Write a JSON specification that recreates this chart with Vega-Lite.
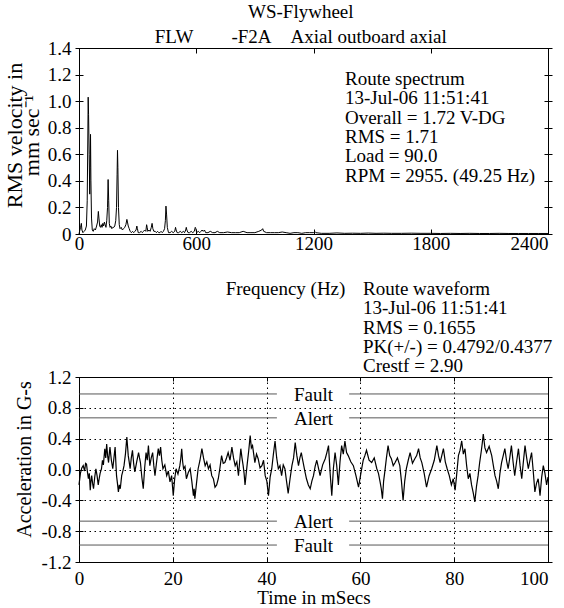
{
  "$schema": "https://vega.github.io/schema/vega-lite/v6.json",
  "padding": {"left": 2, "top": 3, "right": 0, "bottom": 0},
  "bounds": "flush",
  "spacing": 143,
  "title": {
    "text": "WS-Flywheel",
    "subtitle": "FLW\u00a0\u00a0\u00a0\u00a0\u00a0\u00a0\u00a0\u00a0-F2A\u00a0\u00a0\u00a0\u00a0Axial outboard axial",
    "anchor": "middle",
    "dx": 23,
    "offset": -8.5,
    "subtitlePadding": 6
  },
  "config": {
    "font": "Liberation Serif",
    "view": {"stroke": "black", "strokeWidth": 1},
    "axis": {
      "labelFont": "Liberation Serif", "titleFont": "Liberation Serif",
      "labelFontSize": 19, "titleFontSize": 19, "titleFontWeight": "normal",
      "labelColor": "black", "titleColor": "black", "tickColor": "black", "tickWidth": 1,
      "domain": false, "grid": false, "labelOverlap": false, "labelBound": false
    },
    "text": {"font": "Liberation Serif", "fontSize": 19, "color": "black"},
    "title": {
      "font": "Liberation Serif", "fontSize": 19, "fontWeight": "normal", "color": "black",
      "subtitleFont": "Liberation Serif", "subtitleFontSize": 19, "subtitleColor": "black"
    }
  },
  "vconcat": [
    {
      "width": 469,
      "height": 186,
      "layer": [
        {
          "data": {"values": [
            {"f":0,"v":0.0},{"f":3,"v":0.02},{"f":8,"v":0.05},{"f":12,"v":0.08},{"f":15,"v":0.03},{"f":20,"v":0.01},
            {"f":26,"v":0.02},{"f":32,"v":0.03},{"f":38,"v":0.06},{"f":42,"v":0.25},{"f":45,"v":0.7},{"f":47,"v":1.03},
            {"f":49,"v":0.9},{"f":52,"v":0.6},{"f":55,"v":0.3},{"f":57,"v":0.5},{"f":59,"v":0.75},{"f":61,"v":0.4},
            {"f":64,"v":0.12},{"f":68,"v":0.03},{"f":73,"v":0.02},{"f":78,"v":0.04},{"f":84,"v":0.03},{"f":90,"v":0.06},
            {"f":95,"v":0.09},{"f":99,"v":0.17},{"f":102,"v":0.12},{"f":106,"v":0.06},{"f":110,"v":0.05},{"f":114,"v":0.07},
            {"f":118,"v":0.05},{"f":122,"v":0.08},{"f":126,"v":0.06},{"f":130,"v":0.09},{"f":134,"v":0.07},{"f":138,"v":0.05},
            {"f":142,"v":0.1},{"f":146,"v":0.2},{"f":149,"v":0.41},{"f":152,"v":0.25},{"f":155,"v":0.08},{"f":159,"v":0.05},
            {"f":163,"v":0.06},{"f":168,"v":0.04},{"f":173,"v":0.05},{"f":178,"v":0.05},{"f":183,"v":0.06},{"f":188,"v":0.1},
            {"f":192,"v":0.2},{"f":195,"v":0.45},{"f":197,"v":0.63},{"f":199,"v":0.5},{"f":202,"v":0.2},{"f":206,"v":0.07},
            {"f":210,"v":0.04},{"f":216,"v":0.05},{"f":222,"v":0.03},{"f":228,"v":0.04},{"f":234,"v":0.05},{"f":240,"v":0.07},
            {"f":245,"v":0.11},{"f":248,"v":0.09},{"f":252,"v":0.06},{"f":257,"v":0.04},{"f":262,"v":0.02},{"f":268,"v":0.01},
            {"f":274,"v":0.02},{"f":280,"v":0.01},{"f":286,"v":0.02},{"f":292,"v":0.03},{"f":296,"v":0.06},{"f":299,"v":0.04},
            {"f":303,"v":0.01},{"f":310,"v":0.01},{"f":318,"v":0.02},{"f":324,"v":0.01},{"f":330,"v":0.02},{"f":336,"v":0.03},
            {"f":342,"v":0.02},{"f":346,"v":0.07},{"f":349,"v":0.05},{"f":352,"v":0.02},{"f":358,"v":0.03},{"f":364,"v":0.02},
            {"f":370,"v":0.05},{"f":374,"v":0.08},{"f":378,"v":0.04},{"f":383,"v":0.02},{"f":390,"v":0.02},{"f":396,"v":0.01},
            {"f":402,"v":0.02},{"f":408,"v":0.01},{"f":414,"v":0.01},{"f":420,"v":0.02},{"f":426,"v":0.01},{"f":432,"v":0.02},
            {"f":438,"v":0.04},{"f":442,"v":0.1},{"f":445,"v":0.21},{"f":448,"v":0.15},{"f":452,"v":0.05},{"f":458,"v":0.01},
            {"f":466,"v":0.01},{"f":474,"v":0.02},{"f":482,"v":0.01},{"f":490,"v":0.02},{"f":494,"v":0.05},{"f":497,"v":0.03},
            {"f":502,"v":0.01},{"f":510,"v":0.01},{"f":518,"v":0.02},{"f":526,"v":0.01},{"f":534,"v":0.02},{"f":540,"v":0.01},
            {"f":546,"v":0.03},{"f":549,"v":0.05},{"f":552,"v":0.03},{"f":558,"v":0.01},{"f":566,"v":0.01},{"f":574,"v":0.02},
            {"f":582,"v":0.01},{"f":590,"v":0.02},{"f":595,"v":0.05},{"f":598,"v":0.04},{"f":602,"v":0.01},{"f":610,"v":0.02},
            {"f":618,"v":0.01},{"f":624,"v":0.02},{"f":630,"v":0.03},{"f":636,"v":0.02},{"f":642,"v":0.03},{"f":648,"v":0.01},
            {"f":660,"v":0.01},{"f":672,"v":0.02},{"f":684,"v":0.01},{"f":696,"v":0.01},{"f":708,"v":0.02},{"f":720,"v":0.01},
            {"f":740,"v":0.01},{"f":760,"v":0.015},{"f":780,"v":0.01},{"f":800,"v":0.01},{"f":820,"v":0.01},{"f":840,"v":0.02},
            {"f":860,"v":0.01},{"f":880,"v":0.01},{"f":900,"v":0.01},{"f":920,"v":0.02},{"f":935,"v":0.03},{"f":940,"v":0.04},
            {"f":945,"v":0.02},{"f":960,"v":0.01},{"f":980,"v":0.01},{"f":1000,"v":0.01},{"f":1020,"v":0.01},{"f":1040,"v":0.015},
            {"f":1060,"v":0.01},{"f":1080,"v":0.005},{"f":1100,"v":0.01},{"f":1120,"v":0.01},{"f":1140,"v":0.005},{"f":1160,"v":0.01},
            {"f":1180,"v":0.01},{"f":1200,"v":0.01},{"f":1206,"v":0.02},{"f":1212,"v":0.01},{"f":1240,"v":0.005},{"f":1280,"v":0.005},
            {"f":1320,"v":0.008},{"f":1360,"v":0.005},{"f":1400,"v":0.006},{"f":1440,"v":0.005},{"f":1480,"v":0.007},{"f":1520,"v":0.005},
            {"f":1560,"v":0.006},{"f":1600,"v":0.005},{"f":1650,"v":0.005},{"f":1700,"v":0.006},{"f":1750,"v":0.005},{"f":1800,"v":0.005},
            {"f":1850,"v":0.004},{"f":1900,"v":0.005},{"f":1950,"v":0.004},{"f":2000,"v":0.005},{"f":2050,"v":0.004},{"f":2100,"v":0.004},
            {"f":2150,"v":0.005},{"f":2200,"v":0.004},{"f":2250,"v":0.004},{"f":2300,"v":0.004},{"f":2350,"v":0.004},{"f":2400,"v":0.004}
          ]},
          "mark": {"type": "line", "color": "black", "strokeWidth": 1},
          "encoding": {
            "x": {
              "field": "f", "type": "quantitative",
              "scale": {"domain": [0, 2400], "nice": false, "zero": false},
              "axis": {
                "orient": "bottom", "values": [0, 600, 1200, 1800, 2400], "format": "d",
                "offset": -5, "tickSize": 5, "labelPadding": 0,
                "labelAlign": {"condition": {"test": "datum.value == 2400", "value": "right"}, "value": "center"},
                "title": "Frequency (Hz)", "titleX": 206, "titleY": 65,
                "titleAlign": "center", "titleBaseline": "alphabetic"
              }
            },
            "y": {
              "field": "v", "type": "quantitative",
              "scale": {"domain": [0, 1.4], "nice": false},
              "axis": {
                "orient": "left", "values": [0, 0.2, 0.4, 0.6, 0.8, 1.0, 1.2, 1.4],
                "offset": -4, "tickSize": 8, "labelPadding": 4,
                "labelExpr": "datum.value == 0 ? '0' : format(datum.value, '.1f')",
                "title": ["RMS velocity in", "mm sec\u207b\u00b9"],
                "titleFontSize": 22,
                "titleX": -62, "titleY": 87, "titleAngle": -90,
                "titleAlign": "center", "titleBaseline": "alphabetic", "titleLineHeight": 17
              }
            }
          }
        },
        {
          "data": {"values": [{}]},
          "mark": {
            "type": "text", "align": "left", "baseline": "alphabetic", "lineHeight": 19.3,
            "text": ["Route spectrum", "13-Jul-06 11:51:41", "Overall = 1.72 V-DG", "RMS = 1.71", "Load = 90.0", "RPM = 2955. (49.25 Hz)"]
          },
          "encoding": {
            "x": {"datum": 1361, "type": "quantitative",
                  "axis": {"orient": "top", "values": [600, 1200, 1800], "offset": -5, "tickSize": 5, "labels": false, "title": null}},
            "y": {"datum": 1.1215, "type": "quantitative",
                  "axis": {"orient": "right", "values": [0, 0.2, 0.4, 0.6, 0.8, 1.0, 1.2, 1.4], "offset": -4, "tickSize": 8, "labels": false, "title": null}}
          }
        }
      ],
      "resolve": {"axis": {"x": "independent", "y": "independent"}}
    },
    {
      "width": 469,
      "height": 185,
      "layer": [
        {
          "data": {"values": [
            {"t":0.0,"a":-0.20},{"t":0.3,"a":-0.05},{"t":0.6,"a":0.02},{"t":0.9,"a":0.05},{"t":1.2,"a":-0.02},{"t":1.4,"a":0.08},
            {"t":1.6,"a":0.07},{"t":1.8,"a":-0.03},{"t":2.0,"a":-0.12},{"t":2.2,"a":-0.05},{"t":2.4,"a":-0.27},{"t":2.55,"a":-0.15},
            {"t":2.7,"a":-0.08},{"t":2.9,"a":-0.18},{"t":3.1,"a":-0.25},{"t":3.35,"a":-0.10},{"t":3.6,"a":0.01},{"t":3.85,"a":-0.08},
            {"t":4.1,"a":-0.20},{"t":4.3,"a":-0.12},{"t":4.5,"a":-0.05},{"t":4.8,"a":0.01},{"t":5.0,"a":0.12},{"t":5.2,"a":0.06},
            {"t":5.5,"a":0.27},{"t":5.7,"a":0.15},{"t":5.9,"a":0.33},{"t":6.1,"a":0.18},{"t":6.3,"a":0.09},{"t":6.45,"a":0.20},
            {"t":6.6,"a":0.29},{"t":6.9,"a":0.12},{"t":7.2,"a":0.01},{"t":7.45,"a":0.15},{"t":7.7,"a":0.29},{"t":7.85,"a":0.10},
            {"t":8.0,"a":-0.08},{"t":8.2,"a":-0.18},{"t":8.4,"a":-0.29},{"t":8.6,"a":-0.20},{"t":8.8,"a":-0.25},{"t":9.1,"a":-0.08},
            {"t":9.35,"a":-0.02},{"t":9.6,"a":0.05},{"t":9.9,"a":0.20},{"t":10.2,"a":0.42},{"t":10.35,"a":0.30},{"t":10.5,"a":0.18},
            {"t":10.7,"a":0.10},{"t":10.9,"a":0.01},{"t":11.15,"a":0.15},{"t":11.4,"a":0.25},{"t":11.65,"a":0.08},{"t":11.9,"a":-0.03},
            {"t":12.3,"a":0.10},{"t":12.7,"a":0.22},{"t":12.9,"a":0.15},{"t":13.1,"a":0.09},{"t":13.4,"a":-0.10},{"t":13.7,"a":-0.25},
            {"t":14.0,"a":0.02},{"t":14.3,"a":0.22},{"t":14.55,"a":0.12},{"t":14.8,"a":0.31},{"t":14.95,"a":0.18},{"t":15.1,"a":0.05},
            {"t":15.4,"a":0.15},{"t":15.7,"a":0.22},{"t":15.95,"a":0.05},{"t":16.2,"a":-0.08},{"t":16.55,"a":0.10},{"t":16.9,"a":0.27},
            {"t":17.15,"a":0.18},{"t":17.4,"a":0.29},{"t":17.65,"a":0.12},{"t":17.9,"a":0.01},{"t":18.3,"a":0.06},{"t":18.7,"a":-0.08},
            {"t":19.05,"a":-0.02},{"t":19.4,"a":-0.16},{"t":19.75,"a":-0.08},{"t":20.1,"a":-0.34},{"t":20.4,"a":-0.12},{"t":20.7,"a":0.01},
            {"t":21.1,"a":-0.06},{"t":21.5,"a":0.05},{"t":21.7,"a":0.14},{"t":21.9,"a":0.27},{"t":22.1,"a":0.10},{"t":22.3,"a":0.01},
            {"t":22.6,"a":0.04},{"t":22.9,"a":-0.12},{"t":23.3,"a":-0.04},{"t":23.7,"a":0.01},{"t":24.05,"a":-0.15},{"t":24.4,"a":-0.34},
            {"t":24.55,"a":-0.25},{"t":24.7,"a":-0.38},{"t":25.05,"a":-0.18},{"t":25.4,"a":0.01},{"t":25.8,"a":0.12},{"t":26.2,"a":0.27},
            {"t":26.55,"a":0.15},{"t":26.9,"a":0.05},{"t":27.25,"a":0.10},{"t":27.6,"a":0.01},{"t":27.95,"a":0.06},{"t":28.3,"a":-0.08},
            {"t":28.65,"a":-0.12},{"t":29.0,"a":-0.23},{"t":29.35,"a":-0.20},{"t":29.7,"a":-0.12},{"t":30.05,"a":0.02},{"t":30.4,"a":0.18},
            {"t":30.75,"a":0.08},{"t":31.1,"a":0.09},{"t":31.45,"a":0.15},{"t":31.8,"a":0.22},{"t":32.2,"a":0.12},{"t":32.6,"a":0.29},
            {"t":32.95,"a":0.15},{"t":33.3,"a":0.05},{"t":33.65,"a":0.10},{"t":34.0,"a":-0.08},{"t":34.25,"a":0.10},{"t":34.5,"a":0.27},
            {"t":34.75,"a":0.15},{"t":35.0,"a":0.05},{"t":35.2,"a":-0.05},{"t":35.4,"a":-0.20},{"t":35.65,"a":-0.05},{"t":35.9,"a":0.09},
            {"t":36.2,"a":0.25},{"t":36.5,"a":0.44},{"t":36.75,"a":0.28},{"t":37.0,"a":0.31},{"t":37.25,"a":0.20},{"t":37.5,"a":0.09},
            {"t":37.85,"a":0.20},{"t":38.2,"a":0.14},{"t":38.6,"a":0.02},{"t":39.0,"a":0.05},{"t":39.35,"a":0.12},{"t":39.7,"a":-0.08},
            {"t":40.05,"a":-0.15},{"t":40.4,"a":-0.34},{"t":40.75,"a":-0.10},{"t":41.1,"a":0.01},{"t":41.45,"a":0.20},{"t":41.8,"a":0.37},
            {"t":42.15,"a":0.15},{"t":42.5,"a":0.01},{"t":42.85,"a":0.05},{"t":43.2,"a":-0.08},{"t":43.55,"a":0.06},{"t":43.9,"a":0.01},
            {"t":44.25,"a":-0.15},{"t":44.6,"a":-0.31},{"t":45.0,"a":-0.12},{"t":45.4,"a":0.05},{"t":45.75,"a":0.15},{"t":46.1,"a":0.35},
            {"t":46.45,"a":0.18},{"t":46.8,"a":0.05},{"t":47.1,"a":0.15},{"t":47.4,"a":0.22},{"t":47.6,"a":0.15},{"t":47.8,"a":0.09},
            {"t":48.15,"a":-0.02},{"t":48.5,"a":-0.12},{"t":48.9,"a":-0.20},{"t":49.3,"a":-0.25},{"t":49.65,"a":-0.15},{"t":50.0,"a":-0.08},
            {"t":50.35,"a":0.04},{"t":50.7,"a":0.12},{"t":51.05,"a":0.02},{"t":51.4,"a":-0.08},{"t":51.95,"a":0.06},{"t":52.5,"a":0.14},
            {"t":52.85,"a":0.22},{"t":53.2,"a":0.31},{"t":53.55,"a":-0.05},{"t":53.9,"a":-0.34},{"t":54.25,"a":0.02},{"t":54.6,"a":0.22},
            {"t":54.95,"a":0.05},{"t":55.3,"a":-0.20},{"t":55.65,"a":0.10},{"t":56.0,"a":0.31},{"t":56.35,"a":0.20},{"t":56.7,"a":0.37},
            {"t":57.05,"a":0.22},{"t":57.4,"a":0.18},{"t":57.95,"a":0.10},{"t":58.5,"a":0.05},{"t":59.05,"a":-0.08},{"t":59.6,"a":-0.23},
            {"t":60.1,"a":-0.05},{"t":60.6,"a":0.12},{"t":60.95,"a":0.18},{"t":61.3,"a":0.25},{"t":61.85,"a":0.12},{"t":62.4,"a":0.09},
            {"t":62.95,"a":0.15},{"t":63.5,"a":0.01},{"t":63.85,"a":-0.05},{"t":64.2,"a":-0.16},{"t":64.45,"a":-0.25},{"t":64.7,"a":-0.38},
            {"t":64.95,"a":-0.15},{"t":65.2,"a":-0.03},{"t":65.55,"a":0.15},{"t":65.9,"a":0.31},{"t":66.25,"a":0.18},{"t":66.6,"a":0.14},
            {"t":67.0,"a":0.05},{"t":67.4,"a":0.09},{"t":67.9,"a":0.15},{"t":68.4,"a":0.05},{"t":68.75,"a":-0.15},{"t":69.1,"a":-0.40},
            {"t":69.45,"a":-0.15},{"t":69.8,"a":0.01},{"t":70.2,"a":0.12},{"t":70.6,"a":0.22},{"t":71.1,"a":0.08},{"t":71.6,"a":0.14},
            {"t":72.0,"a":0.18},{"t":72.4,"a":0.27},{"t":72.75,"a":0.15},{"t":73.1,"a":0.09},{"t":73.6,"a":-0.05},{"t":74.1,"a":-0.23},
            {"t":74.65,"a":-0.08},{"t":75.2,"a":0.01},{"t":75.75,"a":0.12},{"t":76.3,"a":0.31},{"t":76.65,"a":0.18},{"t":77.0,"a":0.09},
            {"t":77.35,"a":0.18},{"t":77.7,"a":0.27},{"t":78.1,"a":0.10},{"t":78.5,"a":0.01},{"t":78.95,"a":-0.08},{"t":79.4,"a":-0.20},
            {"t":79.8,"a":-0.12},{"t":80.2,"a":-0.27},{"t":80.55,"a":-0.05},{"t":80.9,"a":0.18},{"t":81.25,"a":0.25},{"t":81.6,"a":0.37},
            {"t":81.95,"a":0.20},{"t":82.3,"a":0.27},{"t":82.65,"a":0.05},{"t":83.0,"a":-0.12},{"t":83.35,"a":-0.05},{"t":83.7,"a":-0.20},
            {"t":84.05,"a":-0.30},{"t":84.4,"a":-0.42},{"t":84.75,"a":-0.22},{"t":85.1,"a":-0.08},{"t":85.45,"a":0.10},{"t":85.8,"a":0.25},
            {"t":86.0,"a":0.35},{"t":86.2,"a":0.46},{"t":86.55,"a":0.28},{"t":86.9,"a":0.22},{"t":87.45,"a":0.30},{"t":88.0,"a":0.18},
            {"t":88.35,"a":0.05},{"t":88.7,"a":-0.08},{"t":89.05,"a":-0.15},{"t":89.4,"a":-0.25},{"t":89.75,"a":-0.05},{"t":90.1,"a":0.09},
            {"t":90.45,"a":0.18},{"t":90.8,"a":0.27},{"t":91.15,"a":0.12},{"t":91.5,"a":0.01},{"t":91.85,"a":0.15},{"t":92.2,"a":0.31},
            {"t":92.55,"a":0.10},{"t":92.9,"a":-0.08},{"t":93.3,"a":0.10},{"t":93.7,"a":0.27},{"t":94.05,"a":0.05},{"t":94.4,"a":-0.12},
            {"t":94.75,"a":0.10},{"t":95.1,"a":0.31},{"t":95.45,"a":0.15},{"t":95.8,"a":0.01},{"t":96.15,"a":0.12},{"t":96.5,"a":0.22},
            {"t":96.85,"a":-0.02},{"t":97.2,"a":-0.29},{"t":97.55,"a":-0.18},{"t":97.9,"a":-0.12},{"t":98.1,"a":-0.22},{"t":98.3,"a":-0.34},
            {"t":98.65,"a":-0.10},{"t":99.0,"a":0.05},{"t":99.35,"a":-0.05},{"t":99.7,"a":-0.20},{"t":100.0,"a":-0.10}
          ]},
          "mark": {"type": "line", "color": "black", "strokeWidth": 1.2},
          "encoding": {
            "x": {
              "field": "t", "type": "quantitative",
              "scale": {"domain": [0, 100], "nice": false},
              "axis": {
                "orient": "bottom", "values": [0, 20, 40, 60, 80, 100], "format": "d",
                "offset": -5, "tickSize": 5, "labelPadding": 7,
                "labelAlign": {"condition": {"test": "datum.value == 100", "value": "right"}, "value": "center"},
                "grid": true, "gridColor": "black", "gridDash": [1.5, 3.5], "gridWidth": 1,
                "title": "Time in mSecs", "titleX": 234.5, "titleY": 46,
                "titleAlign": "center", "titleBaseline": "alphabetic"
              }
            },
            "y": {
              "field": "a", "type": "quantitative",
              "scale": {"domain": [-1.2, 1.2], "nice": false},
              "axis": {
                "orient": "left", "values": [-1.2, -0.8, -0.4, 0, 0.4, 0.8, 1.2],
                "offset": -4, "tickSize": 8, "labelPadding": 4,
                "labelExpr": "datum.value < 0 ? '-' + format(-datum.value, '.1f') : format(datum.value, '.1f')",
                "grid": true, "gridColor": "black", "gridDash": [1.5, 3.5], "gridWidth": 1,
                "title": "Acceleration in G-s", "titleFontSize": 20,
                "titleX": -53, "titleY": 82, "titleAngle": -90,
                "titleAlign": "center", "titleBaseline": "alphabetic"
              }
            }
          }
        },
        {
          "data": {"values": [
            {"level": "Fault", "y": 0.98}, {"level": "Alert", "y": 0.67},
            {"level": "Alert", "y": -0.67}, {"level": "Fault", "y": -0.98}
          ]},
          "layer": [
            {
              "mark": {"type": "rule", "color": "#444", "strokeWidth": 0.9},
              "encoding": {
                "x": {"datum": 0, "type": "quantitative", "axis": null},
                "x2": {"datum": 42.2},
                "y": {"field": "y", "type": "quantitative", "axis": null}
              }
            },
            {
              "mark": {"type": "rule", "color": "#444", "strokeWidth": 0.9},
              "encoding": {
                "x": {"datum": 57.6, "type": "quantitative", "axis": null},
                "x2": {"datum": 100},
                "y": {"field": "y", "type": "quantitative", "axis": null}
              }
            },
            {
              "mark": {"type": "text", "align": "center", "baseline": "middle", "dy": 1},
              "encoding": {
                "x": {"datum": 50, "type": "quantitative", "axis": null},
                "y": {"field": "y", "type": "quantitative", "axis": null},
                "text": {"field": "level"}
              }
            }
          ]
        },
        {
          "data": {"values": [{}]},
          "mark": {
            "type": "text", "align": "left", "baseline": "alphabetic", "lineHeight": 19.3,
            "text": ["Route waveform", "13-Jul-06 11:51:41", "RMS = 0.1655", "PK(+/-) = 0.4792/0.4377", "Crestf = 2.90"]
          },
          "encoding": {
            "x": {"datum": 60.55, "type": "quantitative",
                  "axis": {"orient": "top", "values": [20, 40, 60, 80], "offset": -4, "tickSize": 4, "labels": false, "title": null}},
            "y": {"datum": 2.264, "type": "quantitative",
                  "axis": {"orient": "right", "values": [-1.2, -0.8, -0.4, 0, 0.4, 0.8, 1.2], "offset": -4, "tickSize": 8, "labels": false, "title": null}}
          }
        }
      ],
      "resolve": {"axis": {"x": "independent", "y": "independent"}}
    }
  ]
}
